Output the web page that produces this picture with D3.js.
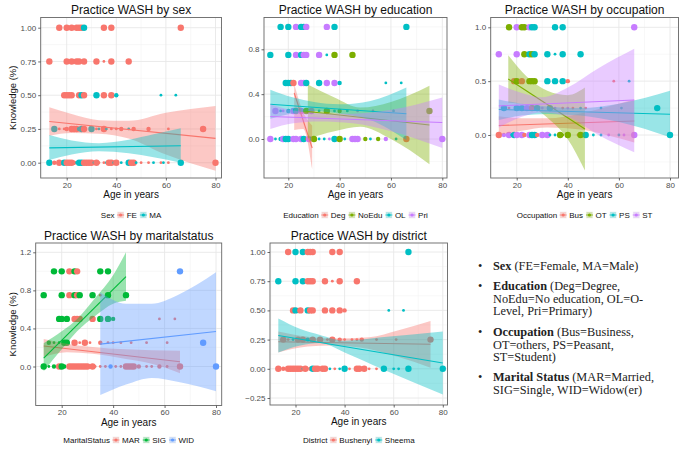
<!DOCTYPE html>
<html><head><meta charset="utf-8">
<script src="https://cdn.jsdelivr.net/npm/d3@7"></script>
<style>
body{margin:0;background:#fff}
svg{display:block}
text{font-family:"Liberation Sans",Arial,Helvetica,sans-serif}
</style>
</head><body>
<svg id="chart" width="685" height="453"></svg>
<script>
// ---------------- DATA ----------------
const xTickValues = [20, 40, 60, 80];
const xMinorValues = [10, 30, 50, 70];

// points: [age, knowledge, groupIndex, overlapCount(1..3)]
const sexGroups = ["FE", "MA"];
const sexPoints = [
  [17,1,0,3],[20,1,0,3],[22,1,0,3],[24,1,0,3],[25,1,0,3],[26,1,0,3],[27,1,1,3],[35,1,0,3],[38,1,0,3],[66,1,0,3],
  [13,.75,0,3],[20,.75,0,3],[22,.75,0,3],[24,.75,0,3],[25,.75,0,3],[27,.75,0,3],[32,.75,0,3],[35,.75,0,1],[38,.75,0,3],[45,.75,0,3],
  [19,.5,0,3],[20,.5,0,3],[21,.5,0,3],[22,.5,0,3],[25,.5,0,3],[26,.5,1,3],[27,.5,0,3],[32,.5,1,3],[35,.5,0,3],[38,.5,0,3],[40,.5,1,2],[58,.5,1,1],[64,.5,1,1],
  [15,.25,1,3],[17,.25,0,1],[19,.25,0,1],[20,.25,0,2],[22,.25,0,3],[23,.25,0,3],[24,.25,0,3],[25,.25,1,2],[26,.25,1,3],[27,.25,0,3],[30,.25,1,3],[32,.25,0,1],[33,.25,1,1],[35,.25,0,3],[36,.25,1,1],[38,.25,0,1],[40,.25,0,1],[42,.25,0,2],[45,.25,1,1],[47,.25,0,2],[53,.25,0,2],[61,.25,0,1],[75,.25,0,3],
  [13,0,1,3],[15,0,0,2],[17,0,0,3],[18,0,0,1],[19,0,1,3],[20,0,0,3],[21,0,0,3],[22,0,0,3],[23,0,0,2],[24,0,1,1],[25,0,1,3],[26,0,1,3],[27,0,0,3],[28,0,0,3],[29,0,0,3],[30,0,0,3],[31,0,1,1],[32,0,0,3],[33,0,0,1],[35,0,0,1],[36,0,1,1],[37,0,0,3],[38,0,0,3],[39,0,1,1],[40,0,0,3],[42,0,1,1],[45,0,1,3],[46,0,0,3],[47,0,0,3],[48,0,1,1],[50,0,0,1],[53,0,0,1],[55,0,1,1],[58,0,0,1],[59,0,1,1],[61,0,0,1],[66,0,1,3],[80,0,0,3]
];
const sexLines = [ [[13,0.305],[80,0.18]], [[13,0.11],[66,0.125]] ];
// bands: [age, lower, upper]
const sexBands = [
  [[13,0.20,0.41],[22,0.22,0.36],[33,0.215,0.315],[45,0.18,0.31],[60,0.06,0.37],[80,-0.06,0.42]],
  [[13,0.02,0.205],[22,0.06,0.165],[33,0.085,0.145],[45,0.07,0.17],[55,0.04,0.21],[66,0.0,0.255]]
];

const eduGroups = ["Deg", "NoEdu", "OL", "Pri"];
const eduPoints = [
  [17,1,2,3],[20,1,2,3],[23,1,3,3],[25,1,2,3],[26,1,2,3],[27,1,3,3],[35,1,3,3],[38,1,2,3],[66,1,2,3],
  [13,.75,2,3],[20,.75,2,3],[23,.75,3,3],[25,.75,2,3],[26,.75,3,3],[27,.75,3,3],[32,.75,3,3],[35,.75,2,1],[38,.75,1,3],[45,.75,1,3],
  [19,.5,2,3],[20,.5,2,3],[21,.5,2,3],[22,.5,0,3],[25,.5,3,3],[26,.5,3,3],[27,.5,2,3],[32,.5,2,3],[35,.5,3,3],[38,.5,3,3],[40,.5,2,2],[58,.5,2,1],[64,.5,2,1],
  [15,.25,3,3],[17,.25,2,1],[18,.25,3,1],[20,.25,2,2],[22,.25,3,3],[23,.25,2,3],[25,.25,3,3],[27,.25,1,3],[29,.25,3,3],[32,.25,2,1],[35,.25,1,3],[38,.25,2,1],[40,.25,1,2],[43,.25,2,1],[47,.25,3,1],[53,.25,3,1],[61,.25,2,1],[75,.25,1,3],
  [13,0,3,3],[15,0,2,1],[17,0,2,2],[18,0,3,3],[19,0,2,3],[20,0,2,3],[22,0,3,3],[23,0,3,3],[25,0,3,3],[26,0,2,3],[27,0,1,1],[28,0,3,3],[29,0,2,2],[30,0,1,3],[32,0,2,1],[34,0,2,1],[36,0,3,1],[38,0,2,3],[40,0,1,3],[42,0,2,1],[45,0,3,3],[46,0,3,3],[47,0,3,3],[50,0,1,2],[52,0,2,1],[55,0,1,2],[58,0,3,2],[62,0,2,1],[66,0,0,3],[80,0,3,3]
];
const eduLines = [ [[22.3,0.41],[29.3,-0.08]], [[27.6,0.245],[75,0.125]], [[13,0.31],[66,0.225]], [[13,0.20],[80,0.147]] ];
const eduBands = [
  [[22.3,0.08,0.49],[25.8,0.09,0.24],[29.3,-0.27,0.12]],
  [[27.6,0.005,0.485],[38,0.07,0.37],[48,0.11,0.28],[60,0.0,0.33],[75,-0.225,0.475]],
  [[13,0.18,0.44],[22,0.23,0.37],[30,0.25,0.33],[40,0.225,0.31],[52,0.17,0.34],[66,-0.01,0.46]],
  [[13,0.09,0.31],[22,0.14,0.255],[32,0.155,0.23],[45,0.14,0.225],[60,0.07,0.26],[80,-0.08,0.37]]
];

const occGroups = ["Bus", "OT", "PS", "ST"];
const occPoints = [
  [17,1,1,3],[20,1,3,3],[22,1,1,3],[23,1,1,3],[25,1,3,3],[26,1,2,3],[27,1,2,3],[35,1,2,3],[38,1,2,3],[66,1,3,3],
  [13,.75,3,3],[20,.75,3,3],[23,.75,1,3],[25,.75,2,3],[26,.75,1,3],[27,.75,2,3],[32,.75,2,3],[35,.75,2,1],[38,.75,2,3],[45,.75,2,3],
  [19,.5,0,3],[20,.5,1,3],[22,.5,0,3],[25,.5,1,3],[26,.5,1,3],[27,.5,1,3],[32,.5,2,3],[35,.5,2,3],[38,.5,2,3],[40,.5,0,2],[58,.5,0,1],[64,.5,2,1],
  [15,.25,2,3],[17,.25,0,1],[20,.25,2,3],[22,.25,2,3],[24,.25,3,3],[26,.25,0,3],[28,.25,2,3],[30,.25,3,1],[33,.25,2,3],[35,.25,3,1],[38,.25,0,1],[40,.25,3,1],[42,.25,0,1],[45,.25,2,1],[47,.25,0,1],[53,.25,2,1],[61,.25,2,1],[75,.25,2,3],
  [13,0,0,3],[15,0,3,2],[17,0,3,3],[18,0,2,1],[19,0,2,3],[20,0,3,3],[22,0,3,3],[23,0,0,2],[25,0,3,3],[26,0,2,3],[27,0,2,3],[28,0,0,2],[30,0,3,3],[32,0,3,3],[33,0,2,1],[35,0,2,1],[37,0,1,3],[38,0,1,1],[40,0,1,3],[44,0,0,1],[45,0,1,3],[47,0,2,3],[50,0,2,1],[53,0,2,1],[56,0,3,1],[60,0,2,1],[62,0,3,1],[66,0,3,3],[80,0,2,3]
];
const occLines = [ [[13,0.088],[66,0.13]], [[16.7,0.52],[46.7,0.056]], [[13,0.237],[80,0.193]], [[13,0.27],[66,0.325]] ];
const occBands = [
  [[13,0.0,0.175],[22,0.04,0.155],[32,0.07,0.155],[45,0.05,0.2],[55,0.0,0.26],[66,-0.07,0.33]],
  [[16.7,0.30,0.74],[24,0.28,0.54],[32,0.16,0.41],[40,-0.04,0.37],[46.7,-0.33,0.44]],
  [[13,0.14,0.33],[22,0.18,0.29],[32,0.195,0.265],[45,0.18,0.25],[60,0.12,0.29],[80,-0.02,0.41]],
  [[13,0.07,0.47],[22,0.17,0.39],[30,0.21,0.35],[40,0.17,0.44],[52,0.0,0.62],[66,-0.16,0.80]]
];

const marGroups = ["MAR", "SIG", "WID"];
const marPoints = [
  [17,1,1,3],[20,1,1,3],[23,1,0,3],[25,1,1,3],[26,1,0,3],[35,1,1,3],[38,1,1,3],[66,1,2,3],
  [13,.75,1,3],[20,.75,1,3],[23,.75,0,3],[25,.75,1,3],[26,.75,0,3],[27,.75,1,3],[32,.75,1,3],[35,.75,0,1],[38,.75,1,3],[45,.75,1,3],
  [19,.5,1,3],[20,.5,1,3],[22,.5,1,3],[25,.5,0,3],[26,.5,0,3],[27,.5,0,3],[32,.5,0,3],[35,.5,1,3],[38,.5,1,3],[40,.5,1,2],[58,.5,0,1],[64,.5,0,1],
  [15,.25,1,2],[17,.25,1,1],[19,.25,1,1],[21,.25,1,3],[22,.25,1,3],[25,.25,0,3],[27,.25,0,1],[29,.25,0,3],[31,.25,0,1],[35,.25,0,2],[38,.25,0,1],[40,.25,0,1],[43,.25,0,1],[47,.25,0,1],[53,.25,0,1],[61,.25,0,1],[75,.25,2,3],
  [13,0,1,3],[15,0,1,1],[17,0,1,2],[19,0,0,3],[20,0,1,3],[21,0,1,2],[23,0,0,3],[24,0,0,3],[25,0,0,3],[26,0,0,3],[27,0,0,3],[28,0,0,3],[29,0,0,3],[30,0,0,3],[32,0,0,3],[33,0,0,1],[35,0,0,1],[37,0,0,1],[39,0,2,2],[41,0,0,1],[43,0,0,1],[45,0,0,3],[46,0,0,3],[47,0,0,3],[48,0,0,3],[50,0,0,2],[53,0,0,1],[55,0,0,1],[58,0,0,2],[61,0,0,1],[66,0,0,3],[80,0,2,3]
];
const marLines = [ [[13,0.215],[66,0.05]], [[13,0.088],[45,0.945]], [[35,0.235],[80,0.368]] ];
const marBands = [
  [[13,0.10,0.29],[22,0.15,0.24],[32,0.135,0.205],[45,0.08,0.18],[55,0.03,0.17],[66,-0.07,0.165]],
  [[13,-0.05,0.245],[20,0.18,0.37],[26,0.37,0.50],[33,0.53,0.72],[40,0.66,0.96],[45,0.69,1.20]],
  [[35,-0.30,0.78],[45,-0.19,0.66],[55,-0.12,0.66],[65,-0.16,0.75],[80,-0.26,0.99]]
];

const disGroups = ["Bushenyi", "Sheema"];
const disPoints = [
  [17,1,0,3],[20,1,1,3],[23,1,1,3],[25,1,0,3],[26,1,0,3],[27,1,0,3],[35,1,0,3],[38,1,0,3],[66,1,1,3],
  [13,.75,1,3],[20,.75,1,3],[23,.75,1,3],[25,.75,0,3],[26,.75,0,3],[27,.75,0,3],[32,.75,0,3],[35,.75,0,1],[38,.75,0,3],[45,.75,0,3],
  [19,.5,0,3],[20,.5,1,3],[22,.5,0,3],[25,.5,1,3],[26,.5,0,3],[27,.5,0,3],[32,.5,0,3],[35,.5,0,3],[38,.5,0,3],[40,.5,0,2],[58,.5,1,1],[64,.5,1,1],
  [15,.25,0,3],[17,.25,0,1],[19,.25,1,1],[21,.25,0,3],[23,.25,0,3],[25,.25,1,2],[27,.25,0,3],[30,.25,0,3],[33,.25,0,1],[35,.25,0,3],[38,.25,0,2],[40,.25,0,1],[43,.25,0,1],[45,.25,0,1],[47,.25,0,2],[53,.25,0,1],[61,.25,0,1],[75,.25,0,3],
  [13,0,0,3],[15,0,0,2],[17,0,0,3],[18,0,0,3],[19,0,0,3],[20,0,0,3],[21,0,0,3],[22,0,0,3],[23,0,1,1],[24,0,0,3],[26,0,0,2],[27,0,1,3],[28,0,0,3],[29,0,0,3],[31,0,0,3],[32,0,0,3],[34,0,1,1],[36,0,0,1],[38,0,1,1],[40,0,1,3],[42,0,0,1],[45,0,0,3],[46,0,0,3],[48,0,0,3],[50,0,0,1],[53,0,0,1],[56,0,1,3],[60,0,1,1],[62,0,1,1],[66,0,1,3],[80,0,1,3]
];
const disLines = [ [[13,0.232],[75,0.21]], [[13,0.285],[80,0.05]] ];
const disBands = [
  [[13,0.14,0.32],[25,0.19,0.275],[35,0.20,0.26],[50,0.17,0.27],[62,0.10,0.33],[75,0.01,0.41]],
  [[13,0.14,0.43],[22,0.20,0.34],[30,0.22,0.29],[40,0.14,0.24],[55,0.0,0.27],[80,-0.22,0.32]]
];

const noteLines = [
  {bullet:true, bold:"Sex", rest:" (FE=Female, MA=Male)"},
  {bullet:true, bold:"Education", rest:" (Deg=Degree,"},
  {bullet:false, bold:"", rest:"NoEdu=No education, OL=O-"},
  {bullet:false, bold:"", rest:"Level, Pri=Primary)"},
  {bullet:true, bold:"Occupation", rest:" (Bus=Business,"},
  {bullet:false, bold:"", rest:"OT=others, PS=Peasant,"},
  {bullet:false, bold:"", rest:"ST=Student)"},
  {bullet:true, bold:"Marital Status", rest:" (MAR=Married,"},
  {bullet:false, bold:"", rest:"SIG=Single, WID=Widow(er)"}
];

// ---------------- LAYOUT / STYLE ----------------
const hue2 = ["#F8766D", "#00BFC4"];
const hue3 = ["#F8766D", "#00BA38", "#619CFF"];
const hue4 = ["#F8766D", "#7CAE00", "#00BFC4", "#C77CFF"];

const panels = [
  {title:"Practice WASH by sex", legendTitle:"Sex", groups:sexGroups, points:sexPoints, lines:sexLines, bands:sexBands, colors:hue2,
   box:{l:40.7,r:221.5,t:17.5,b:178}, xCal:[66.7,215.5], yCal:[[0,162.7],[1,27.7]],
   yMajor:[0,0.25,0.5,0.75,1], yMinor:[-0.125,0.125,0.375,0.625,0.875], yFmt:d3.format(".2f"), yTitle:true, legendY:215},
  {title:"Practice WASH by education", legendTitle:"Education", groups:eduGroups, points:eduPoints, lines:eduLines, bands:eduBands, colors:hue4,
   box:{l:264,r:447,t:17.5,b:178}, xCal:[288.3,442.3], yCal:[[0,139],[0.8,49.3]],
   yMajor:[0,0.4,0.8], yMinor:[-0.2,0.2,0.6,1.0], yFmt:d3.format(".1f"), yTitle:false, legendY:215},
  {title:"Practice WASH by occupation", legendTitle:"Occupation", groups:occGroups, points:occPoints, lines:occLines, bands:occBands, colors:hue4,
   box:{l:490.7,r:678.5,t:17.5,b:178}, xCal:[516.7,670], yCal:[[0,135],[1,27.3]],
   yMajor:[0,0.5,1], yMinor:[-0.25,0.25,0.75], yFmt:d3.format(".1f"), yTitle:false, legendY:215},
  {title:"Practice WASH by maritalstatus", legendTitle:"MaritalStatus", groups:marGroups, points:marPoints, lines:marLines, bands:marBands, colors:hue3,
   box:{l:35.7,r:221.7,t:243,b:405.5}, xCal:[61.7,216], yCal:[[0,366.5],[1.2,252.3]],
   yMajor:[0,0.4,0.8,1.2], yMinor:[-0.2,0.2,0.6,1.0], yFmt:d3.format(".1f"), yTitle:true, legendY:440},
  {title:"Practice WASH by district", legendTitle:"District", groups:disGroups, points:disPoints, lines:disLines, bands:disBands, colors:hue2,
   box:{l:270,r:447.5,t:243,b:405}, xCal:[295.5,442.8], yCal:[[0,368.8],[1,252]],
   yMajor:[-0.25,0,0.25,0.5,0.75,1], yMinor:[-0.125,0.125,0.375,0.625,0.875], yFmt:d3.format(".2f"), yTitle:false, legendY:440}
];

const svg = d3.select("#chart");
svg.append("rect").attr("width",685).attr("height",453).attr("fill","#fff");
const sizeScale = d3.scaleOrdinal().domain([1,2,3]).range([1.4,2.2,3.2]);

panels.forEach((p, pi) => {
  const b = p.box;
  const x = d3.scaleLinear().domain([20,80]).range(p.xCal);
  const y = d3.scaleLinear().domain([p.yCal[0][0], p.yCal[1][0]]).range([p.yCal[0][1], p.yCal[1][1]]);
  const g = svg.append("g");
  const clipId = "clip" + pi;
  svg.append("clipPath").attr("id", clipId).append("rect")
    .attr("x", b.l).attr("y", b.t).attr("width", b.r - b.l).attr("height", b.b - b.t);
  const inner = g.append("g").attr("clip-path", `url(#${clipId})`);

  // grid
  const inX = v => x(v) > b.l && x(v) < b.r;
  const inY = v => y(v) > b.t && y(v) < b.b;
  inner.selectAll(".gxm").data(xMinorValues.filter(inX)).join("line")
    .attr("x1", d=>x(d)).attr("x2", d=>x(d)).attr("y1", b.t).attr("y2", b.b)
    .attr("stroke","#f3f3f3").attr("stroke-width",0.6);
  inner.selectAll(".gym").data(p.yMinor.filter(inY)).join("line")
    .attr("y1", d=>y(d)).attr("y2", d=>y(d)).attr("x1", b.l).attr("x2", b.r)
    .attr("stroke","#f3f3f3").attr("stroke-width",0.6);
  inner.selectAll(".gx").data(xTickValues).join("line")
    .attr("x1", d=>x(d)).attr("x2", d=>x(d)).attr("y1", b.t).attr("y2", b.b)
    .attr("stroke","#e8e8e8").attr("stroke-width",0.9);
  inner.selectAll(".gy").data(p.yMajor.filter(inY)).join("line")
    .attr("y1", d=>y(d)).attr("y2", d=>y(d)).attr("x1", b.l).attr("x2", b.r)
    .attr("stroke","#e8e8e8").attr("stroke-width",0.9);

  // points
  inner.append("g").selectAll("circle").data(p.points).join("circle")
    .attr("cx", d=>x(d[0])).attr("cy", d=>y(d[1])).attr("r", d=>sizeScale(d[3]))
    .attr("fill", d=>p.colors[d[2]]);

  // smooth: ribbon then line, per group
  const area = d3.area().x(d=>x(d[0])).y0(d=>y(d[1])).y1(d=>y(d[2])).curve(d3.curveMonotoneX);
  const line = d3.line().x(d=>x(d[0])).y(d=>y(d[1]));
  p.groups.forEach((gName, gi) => {
    inner.append("path").attr("d", area(p.bands[gi])).attr("fill", p.colors[gi]).attr("fill-opacity", 0.4);
    inner.append("path").attr("d", line(p.lines[gi])).attr("stroke", p.colors[gi]).attr("stroke-width", 1.1).attr("fill","none");
  });

  // border
  g.append("rect").attr("x", b.l).attr("y", b.t).attr("width", b.r-b.l).attr("height", b.b-b.t)
    .attr("fill","none").attr("stroke","#666").attr("stroke-width",0.9);

  // axes
  const ax = g.append("g").attr("transform", `translate(0,${b.b})`)
    .call(d3.axisBottom(x).tickValues(xTickValues).tickSize(2.5).tickPadding(1.5).tickFormat(d3.format("d")));
  const ay = g.append("g").attr("transform", `translate(${b.l},0)`)
    .call(d3.axisLeft(y).tickValues(p.yMajor.filter(inY)).tickSize(2.5).tickPadding(2).tickFormat(p.yFmt));
  [ax, ay].forEach(a => {
    a.select(".domain").remove();
    a.selectAll("line").attr("stroke","#444").attr("stroke-width",0.8);
    a.selectAll("text").attr("fill","#4d4d4d").style("font-size","8px").style("font-family","'Liberation Sans',Arial,sans-serif");
  });

  const cx = (b.l + b.r) / 2;
  // title
  g.append("text").attr("x", cx).attr("y", b.t - 3.5).attr("text-anchor","middle")
    .style("font-size","12px").attr("fill","#111").text(p.title);
  // x title
  g.append("text").attr("x", cx).attr("y", b.b + 20).attr("text-anchor","middle")
    .style("font-size","10px").attr("fill","#111").text("Age in years");
  if (p.yTitle) {
    g.append("text").attr("transform", `translate(15.5,${(b.t+b.b)/2}) rotate(-90)`)
      .attr("text-anchor","middle").style("font-size","9.5px").attr("fill","#111").text("Knowledge (%)");
  }

  // legend
  const lg = g.append("g");
  let cur = 0;
  const t0 = lg.append("text").attr("x", cur).attr("y", 3).style("font-size","8px").attr("fill","#111").text(p.legendTitle);
  cur += t0.node().getComputedTextLength() + 2.5;
  p.groups.forEach((gName, gi) => {
    const k = lg.append("g").attr("transform", `translate(${cur},0)`);
    k.append("rect").attr("x",0).attr("y",-3.5).attr("width",7).attr("height",7).attr("fill","#f4f4f4");
    k.append("rect").attr("x",0.5).attr("y",-3).attr("width",6).attr("height",6).attr("fill",p.colors[gi]).attr("fill-opacity",0.25);
    k.append("line").attr("x1",0).attr("x2",7).attr("y1",0).attr("y2",0).attr("stroke",p.colors[gi]).attr("stroke-width",0.8);
    k.append("circle").attr("cx",3.5).attr("cy",0).attr("r",1.6).attr("fill",p.colors[gi]);
    cur += 9.5;
    const t = lg.append("text").attr("x", cur).attr("y", 3).style("font-size","8px").attr("fill","#111").text(gName);
    cur += t.node().getComputedTextLength() + 3;
  });
  cur -= 3;
  lg.attr("transform", `translate(${cx - cur/2},${p.legendY})`);
});

// notes block
const notes = svg.append("g");
noteLines.forEach((ln, i) => {
  const yPos = [270,290,302.5,315,336,348.5,361,381,393.5][i];
  if (ln.bullet) {
    notes.append("text").attr("x", 478).attr("y", yPos).style("font-family","'Liberation Serif','Times New Roman',serif")
      .style("font-size","12.3px").attr("fill","#222").text("•");
  }
  const t = notes.append("text").attr("x", 493).attr("y", yPos)
    .style("font-family","'Liberation Serif','Times New Roman',serif").style("font-size","12.3px").attr("fill","#222");
  if (ln.bold) t.append("tspan").attr("font-weight","bold").text(ln.bold);
  t.append("tspan").text(ln.rest);
});
</script>
</body></html>
